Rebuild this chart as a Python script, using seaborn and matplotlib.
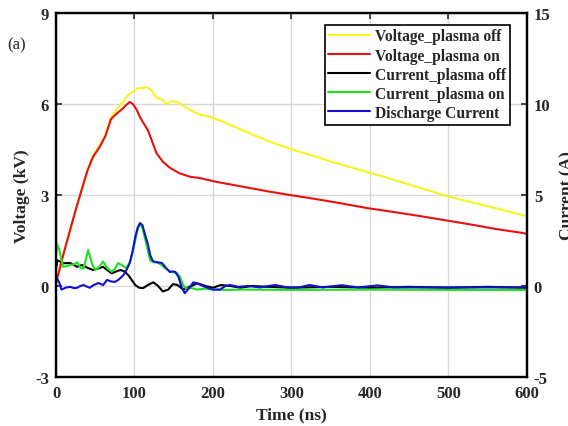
import numpy as np
import pandas as pd
import matplotlib
matplotlib.use("Agg")
import matplotlib.pyplot as plt
import seaborn as sns

# values
t_voff = [0, 3, 10, 18, 25, 33, 40, 47, 56, 63, 70, 78, 85, 92, 98, 104, 110, 116, 122, 128, 135,
          141, 148, 154, 162, 171, 183, 196, 210, 230, 250, 268, 290, 311, 333, 353, 375, 396, 418,
          439, 466, 493, 520, 544, 570, 594, 600]
v_off = [0.1, 0.4, 1.1, 1.85, 2.5, 3.2, 3.8, 4.3, 4.65, 5.0, 5.55, 5.85, 6.05, 6.3, 6.4, 6.52, 6.53,
         6.56, 6.45, 6.2, 6.15, 6.0, 6.1, 6.07, 5.95, 5.8, 5.65, 5.58, 5.45, 5.22, 5.0, 4.8, 4.6, 4.42,
         4.25, 4.08, 3.92, 3.76, 3.6, 3.43, 3.22, 3.0, 2.82, 2.67, 2.5, 2.34, 2.3]

t_von = [0, 3, 10, 18, 25, 33, 40, 47, 56, 63, 70, 78, 85, 90, 94, 98, 103, 107, 112, 117, 122, 128,
         136, 145, 157, 171, 183, 205, 226, 247, 270, 298, 330, 360, 396, 430, 460, 493, 530, 560, 594, 600]
v_on = [0.1, 0.4, 1.1, 1.85, 2.5, 3.2, 3.8, 4.25, 4.6, 4.95, 5.5, 5.7, 5.85, 5.98, 6.07, 6.0, 5.8, 5.57,
        5.35, 5.14, 4.8, 4.38, 4.1, 3.9, 3.72, 3.6, 3.56, 3.43, 3.33, 3.23, 3.12, 3.0, 2.87, 2.74, 2.57,
        2.44, 2.32, 2.18, 2.02, 1.88, 1.75, 1.72]

t_ioff = [0, 2, 5, 10, 18, 23, 27, 33, 40, 47, 53, 60, 66, 71, 77, 82, 87, 92, 97, 101, 106, 111, 117,
          124, 130, 136, 143, 149, 155, 162, 170, 180, 190, 200, 210, 222, 235, 250, 270, 300, 350, 400,
          450, 500, 550, 600]
i_off = [1.0, 1.4, 1.35, 1.25, 1.26, 1.15, 1.05, 1.15, 1.0, 0.88, 0.95, 1.05, 0.85, 0.7, 0.8, 0.88, 0.8,
         0.6, 0.3, 0.05, -0.1, -0.12, 0.05, 0.2, 0.0, -0.3, -0.2, 0.1, 0.05, -0.2, -0.05, 0.15, 0.0, -0.1,
         0.05, 0.0, -0.1, 0.0, -0.05, -0.1, -0.05, -0.1, -0.05, -0.1, -0.05, -0.1]

t_ion = [0, 1, 4, 9, 14, 18, 23, 27, 31, 35, 41, 46, 50, 55, 60, 65, 71, 75, 79, 85, 90, 95, 100, 104,
         107, 110, 114, 120, 124, 128, 133, 138, 145, 150, 154, 158, 162, 166, 171, 180, 190, 200, 215,
         240, 300, 400, 500, 600]
i_on = [1.5, 2.36, 2.0, 1.05, 1.1, 1.15, 1.2, 1.3, 1.0, 0.95, 1.98, 1.2, 0.88, 1.05, 1.35, 1.0, 0.77,
        0.95, 1.26, 1.1, 0.99, 1.4, 2.3, 3.1, 3.4, 3.2, 2.5, 1.4, 1.3, 1.3, 1.2, 1.0, 0.8, 0.75, 0.7, 0.5,
        0.05, -0.15, -0.1, -0.2, -0.15, -0.2, -0.22, -0.2, -0.22, -0.2, -0.22, -0.22]

t_idis = [0, 1, 4, 7, 12, 18, 23, 27, 31, 35, 40, 43, 48, 54, 60, 65, 70, 75, 80, 86, 90, 94, 98, 101,
          104, 107, 110, 113, 117, 120, 123, 126, 130, 135, 140, 145, 149, 152, 156, 160, 164, 168, 171,
          175, 182, 190, 200, 209, 216, 222, 232, 245, 260, 279, 295, 310, 323, 340, 364, 385, 410, 430,
          460, 500, 550, 600]
i_dis = [0.2, 0.44, 0.2, -0.2, -0.1, -0.05, -0.12, -0.1, 0.0, 0.05, -0.05, -0.1, 0.05, 0.16, 0.05, 0.33,
         0.25, 0.22, 0.35, 0.6, 0.9, 1.26, 2.0, 2.7, 3.2, 3.46, 3.35, 2.9, 2.3, 1.7, 1.4, 1.32, 1.3, 1.26,
         1.0, 0.77, 0.8, 0.77, 0.5, -0.05, -0.4, -0.2, -0.05, 0.2, 0.1, -0.05, -0.2, -0.2, 0.0, 0.05,
         -0.05, 0.0, -0.08, 0.05, -0.08, -0.08, 0.05, -0.08, 0.04, -0.08, 0.03, -0.08, -0.08, -0.08,
         -0.08, -0.08]

sns.set_style("white")
plt.rcParams['font.family'] = ['Liberation Serif', 'DejaVu Serif']
plt.rcParams['font.weight'] = 'bold'
plt.rcParams['axes.unicode_minus'] = False

fig = plt.figure(figsize=(5.68, 4.27), dpi=100)
ax = fig.add_axes([0.0986, 0.115, 0.829, 0.852])
ax2 = ax.twinx()

lw = 1.5
sns.lineplot(x=t_voff, y=v_off, ax=ax, color='#f5f520', lw=lw, sort=False, estimator=None,
             label='Voltage_plasma off')
sns.lineplot(x=t_von, y=v_on, ax=ax, color='#e81010', lw=lw, sort=False, estimator=None,
             label='Voltage_plasma on')
sns.lineplot(x=t_ioff, y=i_off, ax=ax2, color='black', lw=lw, sort=False, estimator=None,
             label='Current_plasma off')
sns.lineplot(x=t_ion, y=i_on, ax=ax2, color='#1ee01e', lw=lw, sort=False, estimator=None,
             label='Current_plasma on')
sns.lineplot(x=t_idis, y=i_dis, ax=ax2, color='#1010d0', lw=lw, sort=False, estimator=None,
             label='Discharge Current')

ax.set_xlim(0, 600)
ax.set_ylim(-3, 9)
ax2.set_ylim(-5, 15)
ax.set_xticks(np.arange(0, 601, 100))
ax.set_yticks([-3, 0, 3, 6, 9])
ax2.set_yticks([-5, 0, 5, 10, 15])

ax.grid(True, color='#d8d8d8', lw=1.0)
ax.set_axisbelow(True)
for a in (ax, ax2):
    for s in a.spines.values():
        s.set_linewidth(1.6)
        s.set_color('black')
ax.tick_params(axis='x', direction='in', length=4, width=1.2, labelsize=12, top=True, pad=6)
ax.tick_params(axis='y', direction='in', length=4, width=1.2, labelsize=12, pad=5)
ax2.tick_params(direction='in', length=4, width=1.2, labelsize=12, pad=5)
for lab in ax.get_xticklabels() + ax.get_yticklabels() + ax2.get_yticklabels():
    lab.set_fontweight('bold')

ax.set_xlabel('Time (ns)', fontsize=12.5, fontweight='bold', labelpad=4)
ax.set_ylabel('Voltage (kV)', fontsize=12.5, fontweight='bold', labelpad=4)
ax2.set_ylabel('Current (A)', fontsize=12.5, fontweight='bold', labelpad=6)

h1, l1 = ax.get_legend_handles_labels()
h2, l2 = ax2.get_legend_handles_labels()
if ax.get_legend():
    ax.get_legend().remove()
leg = ax2.legend(h1 + h2, l1 + l2, loc='upper right', bbox_to_anchor=(0.971, 0.977),
                 prop={'weight': 'bold', 'size': 11.2}, frameon=True, fancybox=False,
                 borderpad=0.25, labelspacing=0.2, handlelength=2.7, handletextpad=0.3,
                 borderaxespad=0.2)
leg.get_frame().set_edgecolor('black')
leg.get_frame().set_linewidth(1.2)
leg.get_frame().set_alpha(1)

fig.text(0.012, 0.885, '(a)', fontsize=12, fontweight='normal')

fig.savefig('out.png', dpi=100)
